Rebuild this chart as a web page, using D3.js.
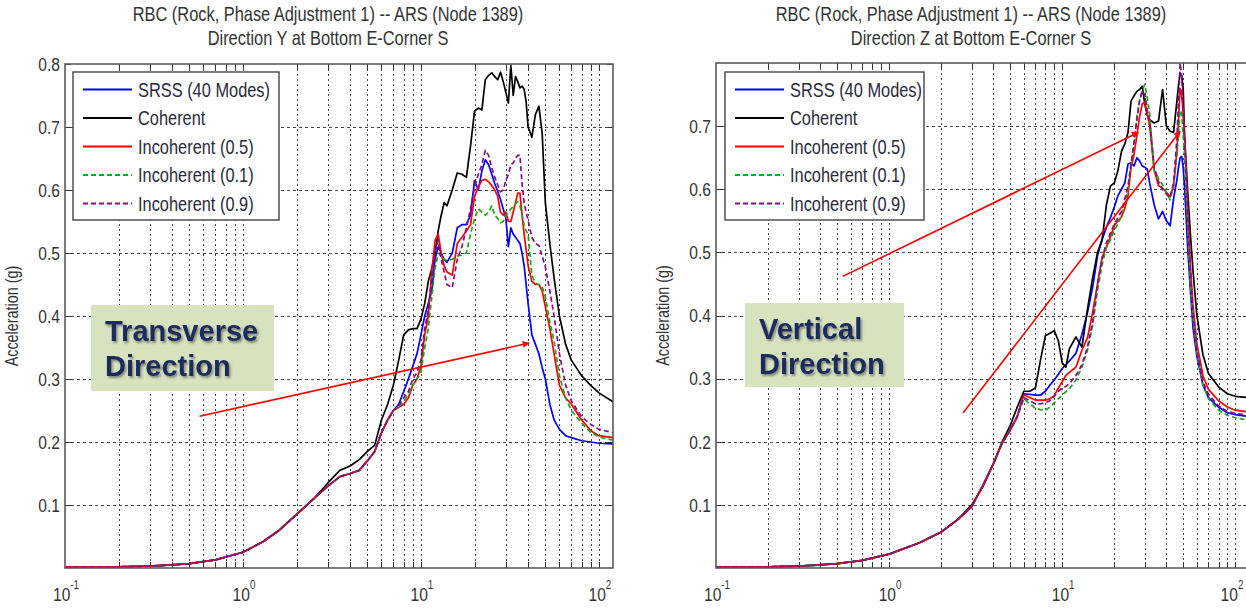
<!DOCTYPE html>
<html>
<head>
<meta charset="utf-8">
<script src="https://cdn.jsdelivr.net/npm/d3@7"></script>
<style>
  body { margin: 0; background: #fff; }
  svg { display: block; font-family: "Liberation Sans", Arial, sans-serif; }
</style>
</head>
<body>
<svg id="chart" width="1246" height="609"></svg>
<script>
// ---- data ----
const seriesNames = ["SRSS (40 Modes)", "Coherent", "Incoherent (0.5)", "Incoherent (0.1)", "Incoherent (0.9)"];
const seriesColors = ["#0000ff", "#000000", "#ff0000", "#18a818", "#8a0a8a"];
const seriesDashed = [false, false, false, true, true];

const xDecades = [0.1, 1, 10, 100];
const yTicksY = [0.1, 0.2, 0.3, 0.4, 0.5, 0.6, 0.7, 0.8];
const yTicksZ = [0.1, 0.2, 0.3, 0.4, 0.5, 0.6, 0.7];

// Direction Y (Hz)
const freqY = [0.1, 0.2, 0.3, 0.4, 0.5, 0.7, 1, 1.3, 1.6, 2, 2.5,
  3, 3.5, 4, 4.5, 5, 5.5, 6, 6.5, 7,
  7.5, 8, 8.5, 9, 9.5, 10,
  10.5, 11, 11.5, 12, 12.5, 13, 13.5,
  14, 15, 16, 17, 18, 19, 20, 21,
  22, 23, 24, 25, 26, 27, 28, 29,
  30, 31, 32, 33, 34, 35, 36, 37,
  38, 39, 40, 42, 44, 46, 48, 50,
  53, 56, 60, 65, 70, 80, 90, 100, 120];
const srssY = [0.002, 0.002, 0.003, 0.005, 0.007, 0.013, 0.025, 0.042, 0.06, 0.085, 0.11,
  0.13, 0.145, 0.15, 0.155, 0.17, 0.185, 0.215, 0.235, 0.25,
  0.26, 0.28, 0.3, 0.32, 0.34, 0.37,
  0.40, 0.42, 0.44, 0.49, 0.51, 0.50, 0.49,
  0.485, 0.5, 0.54, 0.545, 0.545, 0.56, 0.615, 0.6,
  0.63, 0.648, 0.64, 0.625, 0.61, 0.598, 0.585, 0.57,
  0.555, 0.51, 0.54, 0.53, 0.525, 0.52, 0.515, 0.5,
  0.48, 0.45, 0.42, 0.37, 0.355, 0.34, 0.318, 0.3,
  0.26, 0.235, 0.22, 0.21, 0.207, 0.202, 0.2, 0.198, 0.197];
const coherentY = [0.002, 0.002, 0.003, 0.005, 0.007, 0.013, 0.025, 0.042, 0.06, 0.085, 0.11,
  0.135, 0.155, 0.162, 0.172, 0.185, 0.195, 0.235, 0.26, 0.29,
  0.33, 0.37, 0.378, 0.38, 0.38, 0.395,
  0.42, 0.455, 0.475, 0.50, 0.535, 0.56, 0.58,
  0.575, 0.6, 0.627, 0.625, 0.62, 0.67, 0.725, 0.73,
  0.727, 0.775, 0.782, 0.786, 0.78, 0.775, 0.787, 0.772,
  0.755, 0.738, 0.798, 0.75, 0.78, 0.772, 0.762, 0.765,
  0.76, 0.74, 0.70, 0.684, 0.72, 0.733, 0.69, 0.58,
  0.515, 0.46, 0.4, 0.355, 0.33, 0.305, 0.29, 0.278, 0.264];
const incoh05Y = [0.002, 0.002, 0.003, 0.005, 0.007, 0.013, 0.025, 0.042, 0.06, 0.085, 0.11,
  0.13, 0.145, 0.15, 0.155, 0.17, 0.185, 0.215, 0.235, 0.25,
  0.255, 0.26, 0.27, 0.29, 0.30, 0.32,
  0.37, 0.40, 0.47, 0.52, 0.53, 0.50, 0.48,
  0.47, 0.465, 0.515, 0.525, 0.535, 0.545, 0.59, 0.605,
  0.615, 0.617, 0.613, 0.607, 0.6, 0.59, 0.565, 0.56,
  0.565, 0.55, 0.55, 0.565, 0.58, 0.595, 0.595, 0.56,
  0.53, 0.505, 0.48, 0.455, 0.45, 0.45, 0.44, 0.415,
  0.38, 0.34, 0.29, 0.27, 0.26, 0.235, 0.218, 0.21, 0.207];
const incoh01Y = [0.002, 0.002, 0.003, 0.005, 0.007, 0.013, 0.025, 0.042, 0.06, 0.085, 0.11,
  0.13, 0.145, 0.15, 0.155, 0.17, 0.185, 0.215, 0.235, 0.25,
  0.255, 0.265, 0.275, 0.29, 0.3, 0.31,
  0.35, 0.38, 0.43, 0.475, 0.50, 0.495, 0.49,
  0.488, 0.49, 0.495, 0.497, 0.5, 0.53, 0.555, 0.57,
  0.565, 0.56, 0.565, 0.575, 0.56, 0.555, 0.548, 0.55,
  0.56, 0.565, 0.57, 0.573, 0.578, 0.581, 0.575, 0.56,
  0.545, 0.535, 0.53, 0.465, 0.452, 0.45, 0.447, 0.43,
  0.39, 0.36, 0.305, 0.27, 0.25, 0.23, 0.215, 0.208, 0.203];
const incoh09Y = [0.002, 0.002, 0.003, 0.005, 0.007, 0.013, 0.025, 0.042, 0.06, 0.085, 0.11,
  0.13, 0.145, 0.15, 0.155, 0.17, 0.185, 0.215, 0.235, 0.25,
  0.258, 0.27, 0.28, 0.3, 0.31, 0.33,
  0.38, 0.41, 0.46, 0.50, 0.52, 0.49, 0.47,
  0.45, 0.445, 0.49, 0.51, 0.54, 0.57, 0.605, 0.625,
  0.64, 0.663, 0.655, 0.635, 0.62, 0.608, 0.597, 0.6,
  0.615, 0.625, 0.64, 0.643, 0.65, 0.655, 0.655, 0.61,
  0.58, 0.565, 0.552, 0.525, 0.515, 0.512, 0.495, 0.478,
  0.44, 0.4, 0.34, 0.29, 0.265, 0.24, 0.228, 0.22, 0.215];

// Direction Z (Hz)
const freqZ = [0.1, 0.2, 0.3, 0.4, 0.5, 0.7, 1, 1.5, 2, 2.5,
  3, 3.5, 4, 4.5, 5, 5.5,
  6, 6.5, 7, 7.5, 8, 8.5, 9, 9.5, 10, 10.5, 11,
  12, 13, 14, 15, 16, 17, 18, 19, 20,
  21, 22, 23, 24, 25, 26, 27, 28, 29, 30,
  31, 32, 34, 36, 38, 40, 42, 44,
  46, 47, 48, 49, 50, 51, 53, 55, 57, 60,
  65, 70, 80, 90, 100, 120];
const srssZ = [0.002, 0.002, 0.003, 0.005, 0.007, 0.012, 0.022, 0.04, 0.057, 0.077,
  0.097, 0.132, 0.165, 0.198, 0.218, 0.24,
  0.276, 0.275, 0.274, 0.274, 0.28, 0.29, 0.298, 0.307, 0.316, 0.322, 0.328,
  0.34, 0.37, 0.405, 0.445, 0.495, 0.52, 0.54, 0.555, 0.572,
  0.59, 0.6, 0.61, 0.64, 0.642, 0.637, 0.65, 0.645, 0.637, 0.635,
  0.632, 0.61, 0.575, 0.553, 0.565, 0.55, 0.542, 0.585,
  0.615, 0.635, 0.65, 0.652, 0.635, 0.6, 0.51, 0.44, 0.38, 0.335,
  0.29, 0.27, 0.255, 0.246, 0.243, 0.24];
const coherentZ = [0.002, 0.002, 0.003, 0.005, 0.007, 0.012, 0.022, 0.04, 0.057, 0.077,
  0.1, 0.13, 0.165, 0.2, 0.225, 0.255,
  0.28, 0.28, 0.285, 0.33, 0.368, 0.372, 0.376, 0.36, 0.325, 0.318, 0.347,
  0.366, 0.35, 0.41, 0.46, 0.5, 0.52, 0.575, 0.605, 0.61,
  0.63, 0.66, 0.672, 0.69, 0.74, 0.748, 0.755, 0.758, 0.763, 0.735,
  0.718, 0.71, 0.705, 0.708, 0.758, 0.7, 0.692, 0.69,
  0.74, 0.765, 0.784, 0.78, 0.76, 0.68, 0.6, 0.53, 0.47, 0.4,
  0.338, 0.308, 0.287, 0.276, 0.272, 0.27];
const incoh05Z = [0.002, 0.002, 0.003, 0.005, 0.007, 0.012, 0.022, 0.04, 0.057, 0.077,
  0.097, 0.132, 0.165, 0.198, 0.218, 0.24,
  0.274, 0.27, 0.266, 0.266, 0.266, 0.268, 0.273, 0.285, 0.295, 0.305, 0.31,
  0.318, 0.345, 0.365, 0.405, 0.45, 0.492, 0.508, 0.525, 0.542,
  0.55, 0.556, 0.57, 0.59, 0.635, 0.655, 0.685, 0.715, 0.735, 0.738,
  0.72, 0.7, 0.63, 0.606, 0.602, 0.595, 0.588, 0.605,
  0.66, 0.71, 0.76, 0.75, 0.72, 0.68, 0.575, 0.48, 0.415, 0.355,
  0.305, 0.283, 0.265, 0.255, 0.25, 0.247];
const incoh01Z = [0.002, 0.002, 0.003, 0.005, 0.007, 0.012, 0.022, 0.04, 0.057, 0.077,
  0.097, 0.132, 0.165, 0.198, 0.218, 0.24,
  0.268, 0.26, 0.253, 0.251, 0.25, 0.255, 0.262, 0.268, 0.274, 0.279, 0.284,
  0.298, 0.318, 0.345, 0.385, 0.44, 0.48, 0.508, 0.52, 0.535,
  0.545, 0.558, 0.58, 0.6, 0.64, 0.67, 0.715, 0.742, 0.757, 0.766,
  0.745, 0.72, 0.63, 0.617, 0.607, 0.595, 0.583, 0.605,
  0.655, 0.69, 0.725, 0.72, 0.685, 0.65, 0.54, 0.45, 0.395, 0.34,
  0.29, 0.268, 0.25, 0.242, 0.238, 0.234];
const incoh09Z = [0.002, 0.002, 0.003, 0.005, 0.007, 0.012, 0.022, 0.04, 0.057, 0.077,
  0.097, 0.132, 0.165, 0.198, 0.218, 0.24,
  0.27, 0.265, 0.26, 0.26, 0.262, 0.265, 0.272, 0.28, 0.285, 0.288, 0.292,
  0.305, 0.322, 0.35, 0.39, 0.45, 0.49, 0.515, 0.53, 0.545,
  0.555, 0.565, 0.585, 0.605, 0.64, 0.675, 0.71, 0.74, 0.755, 0.75,
  0.725, 0.71, 0.635, 0.612, 0.6, 0.592, 0.587, 0.61,
  0.68, 0.74, 0.8, 0.78, 0.72, 0.68, 0.56, 0.47, 0.405, 0.345,
  0.295, 0.275, 0.257, 0.248, 0.245, 0.242];

// annotation arrows: [fromHz, fromG, toHz, toG]
const arrowsY = [[0.57, 0.241, 40.5, 0.357]];
const arrowsZ = [[0.54, 0.462, 27.5, 0.69], [2.68, 0.246, 48, 0.692]];

// ---- layout ----
const panels = [
  {
    id: "Y", left: 65, right: 613, top: 64, bottom: 568, titleX: 328,
    freq: freqY, values: [srssY, coherentY, incoh05Y, incoh01Y, incoh09Y],
    title: ["RBC (Rock, Phase Adjustment 1) -- ARS (Node 1389)", "Direction Y at Bottom E-Corner S"],
    yTicks: yTicksY, yMax: 0.8, arrows: arrowsY,
    legend: {x: 73, y: 72, w: 206, h: 148},
    note: {x: 91, y: 305, w: 183, h: 86, lines: ["Transverse", "Direction"]}
  },
  {
    id: "Z", left: 716, right: 1249, top: 63, bottom: 568, titleX: 971,
    freq: freqZ, values: [srssZ, coherentZ, incoh05Z, incoh01Z, incoh09Z],
    title: ["RBC (Rock, Phase Adjustment 1) -- ARS (Node 1389)", "Direction Z at Bottom E-Corner S"],
    yTicks: yTicksZ, yMax: 0.8, arrows: arrowsZ,
    legend: {x: 725, y: 72, w: 199, h: 148},
    note: {x: 745, y: 303, w: 159, h: 84, lines: ["Vertical", "Direction"]}
  }
];

// condensed look of the original plot text
const squeeze = 0.82;
const placeNarrow = (sel, fx, fy) =>
  sel.attr("transform", (d, i) => `translate(${fx(d, i)},${fy(d, i)}) scale(${squeeze},1)`);

const svg = d3.select("#chart");
const defs = svg.append("defs");

defs.append("marker")
    .attr("id", "arrowHead")
    .attr("viewBox", "0 0 10 10")
    .attr("refX", 9).attr("refY", 5)
    .attr("markerWidth", 7).attr("markerHeight", 7)
    .attr("markerUnits", "userSpaceOnUse")
    .attr("orient", "auto")
  .append("path")
    .attr("d", "M0,0L10,5L0,10Z")
    .attr("fill", "#ff0000");

const shadow = defs.append("filter").attr("id", "textShadow")
    .attr("x", "-10%").attr("y", "-20%").attr("width", "130%").attr("height", "150%");
shadow.append("feDropShadow")
    .attr("dx", 1.5).attr("dy", 2).attr("stdDeviation", 1.3)
    .attr("flood-color", "#444").attr("flood-opacity", 0.6);

panels.forEach(p => {
  const x = d3.scaleLog().domain([0.1, 120]).range([p.left, p.right]);
  const y = d3.scaleLinear().domain([0, p.yMax]).range([p.bottom, p.top]);
  const g = svg.append("g");

  defs.append("clipPath").attr("id", "clip" + p.id)
    .append("rect")
      .attr("x", p.left).attr("y", p.top)
      .attr("width", p.right - p.left).attr("height", p.bottom - p.top);

  // grid
  const xTicks = x.ticks().filter(t => t > 0.1 && t < 120);
  g.append("g").selectAll("line").data(xTicks).join("line")
      .attr("x1", d => Math.round(x(d)) + 0.5).attr("x2", d => Math.round(x(d)) + 0.5)
      .attr("y1", p.top).attr("y2", p.bottom)
      .attr("stroke", "#444").attr("stroke-width", 1).attr("stroke-dasharray", "2,3");
  g.append("g").selectAll("line").data(p.yTicks.filter(t => t < p.yMax)).join("line")
      .attr("x1", p.left).attr("x2", p.right)
      .attr("y1", d => Math.round(y(d)) + 0.5).attr("y2", d => Math.round(y(d)) + 0.5)
      .attr("stroke", "#444").attr("stroke-width", 1).attr("stroke-dasharray", "3,3");

  // ticks (inside)
  const tk = g.append("g").attr("stroke", "#333").attr("stroke-width", 1);
  xTicks.forEach(t => {
    const xx = Math.round(x(t)) + 0.5;
    tk.append("line").attr("x1", xx).attr("x2", xx).attr("y1", p.bottom).attr("y2", p.bottom - 6);
    tk.append("line").attr("x1", xx).attr("x2", xx).attr("y1", p.top).attr("y2", p.top + 6);
  });
  p.yTicks.forEach(t => {
    const yy = Math.round(y(t)) + 0.5;
    tk.append("line").attr("x1", p.left).attr("x2", p.left + 6).attr("y1", yy).attr("y2", yy);
    tk.append("line").attr("x1", p.right).attr("x2", p.right - 6).attr("y1", yy).attr("y2", yy);
  });

  // curves
  const line = d3.line().x(d => x(d[0])).y(d => y(d[1]));
  const cg = g.append("g").attr("clip-path", `url(#clip${p.id})`);
  p.values.forEach((vals, i) => {
    cg.append("path")
      .datum(d3.zip(p.freq, vals))
      .attr("d", line)
      .attr("fill", "none")
      .attr("stroke", seriesColors[i])
      .attr("stroke-width", 1.7)
      .attr("stroke-linejoin", "round")
      .attr("stroke-dasharray", seriesDashed[i] ? "5,3" : null);
  });

  // frame
  g.append("rect")
    .attr("x", p.left).attr("y", p.top)
    .attr("width", p.right - p.left).attr("height", p.bottom - p.top)
    .attr("fill", "none").attr("stroke", "#5a5a5a").attr("stroke-width", 1.6);

  // tick labels
  g.append("g").selectAll("text").data(p.yTicks).join("text")
      .call(placeNarrow, () => p.left - 5, d => y(d))
      .attr("dy", "0.36em")
      .attr("text-anchor", "end").attr("font-size", 19).attr("fill", "#333")
      .text(d3.format(".1f"));
  const xl = g.append("g").selectAll("text").data(xDecades).join("text")
      .call(placeNarrow, d => Math.min(x(d) + 1, 1232), () => 601)
      .attr("text-anchor", "middle").attr("font-size", 19).attr("fill", "#333");
  xl.append("tspan").text("10");
  xl.append("tspan").attr("dy", -12).attr("font-size", 12).text(d => Math.round(Math.log10(d)));

  // axis title
  g.append("text")
    .attr("transform", `translate(${p.left - 47},${(p.top + p.bottom) / 2}) rotate(-90) scale(0.9,1.1)`)
    .attr("text-anchor", "middle").attr("font-size", 16).attr("fill", "#333")
    .text("Acceleration (g)");

  // title
  g.append("g").selectAll("text").data(p.title).join("text")
      .call(placeNarrow, () => p.titleX, (d, i) => 21 + i * 24)
      .attr("text-anchor", "middle").attr("font-size", 20).attr("fill", "#333")
      .text(d => d);

  // legend
  const L = p.legend;
  const lg = g.append("g");
  lg.append("rect").attr("x", L.x).attr("y", L.y).attr("width", L.w).attr("height", L.h)
    .attr("fill", "#fff").attr("stroke", "#444").attr("stroke-width", 1.4);
  seriesNames.forEach((name, i) => {
    const yy = L.y + 17.5 + i * 28.5;
    lg.append("line")
      .attr("x1", L.x + 10).attr("x2", L.x + 59).attr("y1", yy).attr("y2", yy)
      .attr("stroke", seriesColors[i]).attr("stroke-width", 2)
      .attr("stroke-dasharray", seriesDashed[i] ? "5,3" : null);
    lg.append("text")
      .datum(name)
      .call(placeNarrow, () => L.x + 65, () => yy)
      .attr("dy", "0.36em")
      .attr("font-size", 20).attr("fill", "#2a2a3a")
      .text(name);
  });

  // annotation
  const N = p.note;
  g.append("rect").attr("x", N.x).attr("y", N.y).attr("width", N.w).attr("height", N.h)
    .attr("fill", "#d7e3bf");
  g.append("g").attr("filter", "url(#textShadow)")
    .selectAll("text").data(N.lines).join("text")
      .attr("x", N.x + 14).attr("y", (d, i) => N.y + 36 + i * 35)
      .attr("font-size", 29).attr("font-weight", "bold").attr("fill", "#1c2a5c")
      .text(d => d);

  // arrows
  g.append("g").selectAll("line").data(p.arrows).join("line")
      .attr("x1", d => x(d[0])).attr("y1", d => y(d[1]))
      .attr("x2", d => x(d[2])).attr("y2", d => y(d[3]))
      .attr("stroke", "#ff0000").attr("stroke-width", 1.6)
      .attr("marker-end", "url(#arrowHead)");
});
</script>
</body>
</html>
